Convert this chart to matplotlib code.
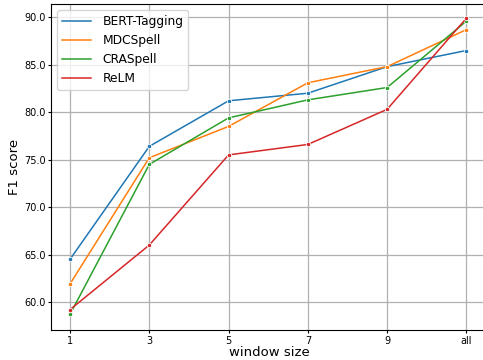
import matplotlib
matplotlib.use("Agg")
import matplotlib.pyplot as plt
from matplotlib.lines import Line2D

window_sizes = ["1", "3", "5", "7", "9", "all"]
bert_tagging = [64.5, 76.4, 81.2, 82.0, 84.8, 86.5]
mdcspell = [61.9, 75.2, 78.5, 83.1, 84.8, 88.7]
craspell = [58.7, 74.5, 79.4, 81.3, 82.6, 89.6]
relm = [59.2, 66.0, 75.5, 76.6, 80.3, 89.9]

series = [("BERT-Tagging", bert_tagging, "#1f77b4"),
          ("MDCSpell", mdcspell, "#ff7f0e"),
          ("CRASpell", craspell, "#2ca02c"),
          ("ReLM", relm, "#d62728")]

fig = plt.figure(figsize=(4.83, 3.6), dpi=100)
ax = fig.add_axes([51/483, 30/360, 436/483, 326/360])

x = range(len(window_sizes))
handles = []
for name, vals, col in series:
    ax.plot(x, vals, color=col, lw=1.1, marker="o", ms=3.2,
            mec="white", mew=0.6)
    handles.append(Line2D([], [], color=col, lw=1.1, label=name))

yt = [60, 65, 70, 75, 80, 85, 90]
ax.set_xticks(list(x))
ax.set_xticklabels(window_sizes)
ax.set_yticks(yt)
ax.set_yticklabels([f"{v:.1f}" for v in yt])
ax.set_xlim(-0.24, 5.26)
ax.set_ylim(57.05, 91.4)
ax.tick_params(labelsize=7, length=2.5, pad=1.5)
ax.grid(True, color="#b0b0b0", lw=0.9)
ax.set_axisbelow(True)
ax.spines["right"].set_visible(False)
ax.set_xlabel("window size", fontsize=9.5, labelpad=0)
ax.set_ylabel("F1 score", fontsize=9.5, labelpad=2)
ax.legend(handles=handles, loc="upper left", fontsize=8.8,
          handlelength=2.4, handletextpad=0.9)

fig.savefig("out.png", dpi=100)
